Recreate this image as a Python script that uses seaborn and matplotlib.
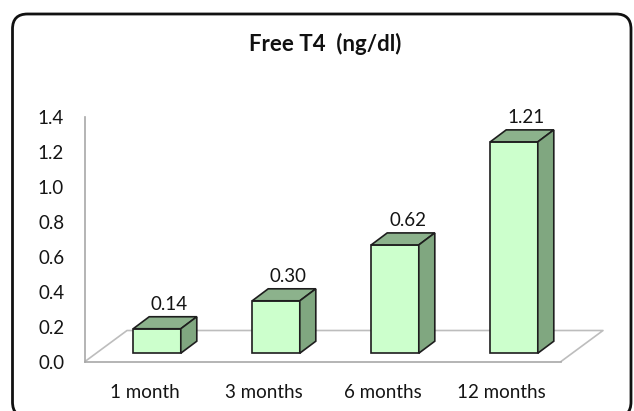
import matplotlib
matplotlib.use("Agg")
import matplotlib.pyplot as plt
import matplotlib.transforms as mtransforms
from matplotlib.patches import Polygon, FancyBboxPatch
import numpy as np
import pandas as pd
import seaborn as sns

# Data
periods = ["1 month", "3 months", "6 months", "12 months"]
free_t4 = [0.14, 0.30, 0.62, 1.21]
y_ticks = [0.0, 0.2, 0.4, 0.6, 0.8, 1.0, 1.2, 1.4]
title = "Free T4  (ng/dl)"

sns.set_style("white")
plt.rcParams["font.family"] = ["Lato", "DejaVu Sans"]

FRONT = "#ccffcc"
SIDE = "#80a780"
TOP = "#8cb28c"
EDGE = "#1e1e1e"
FLOOR = "#bdbdbd"
TEXT = "#141414"
LABEL_SIZE = 13.5

W, H = 634, 411
fig = plt.figure(figsize=(W / 100, H / 100), dpi=100)
ax = fig.add_axes([85 / W, (H - 361.5) / H, (561 - 85) / W, 244.5 / H])

df = pd.DataFrame({"period": periods, "value": free_t4})

# pseudo-3D geometry (pixels)
bar_shift = (12.5, 8.3)      # bars sit part-way into the floor depth
bar_depth = (16.0, 12.0)     # depth of each box
floor_depth = (42.0, 31.0)   # full floor depth

sns.barplot(data=df, x="period", y="value", order=periods, color=FRONT,
            saturation=1, width=0.4, edgecolor=EDGE, linewidth=1.2,
            errorbar=None, ax=ax, zorder=3)
ax.set_xlim(-0.5, len(periods) - 0.5)
ax.set_ylim(0, 1.4)

shift_tr = mtransforms.offset_copy(ax.transData, fig=fig,
                                   x=bar_shift[0], y=bar_shift[1], units="dots")
for p in ax.patches:
    p.set_transform(shift_tr)
    p.set_clip_on(False)

to_disp = ax.transData.transform
to_data = ax.transData.inverted().transform


def shifted(pts, dx, dy):
    d = to_disp(np.asarray(pts, dtype=float)) + np.array([dx, dy])
    return to_data(d)


# top and side faces of each box
for p in list(ax.patches):
    x0, x1 = p.get_x(), p.get_x() + p.get_width()
    h = p.get_height()
    bx, by = bar_shift
    dx, dy = bar_depth
    front = shifted([[x0, 0], [x1, 0], [x1, h], [x0, h]], bx, by)
    fx0, fy0 = front[0]
    fx1, fy1 = front[2]
    top = np.array([[fx0, fy1], [fx1, fy1]])
    top_back = shifted(top, dx, dy)
    ax.add_patch(Polygon([top[0], top[1], top_back[1], top_back[0]],
                         closed=True, facecolor=TOP, edgecolor=EDGE,
                         linewidth=1.2, zorder=3, clip_on=False))
    side = np.array([[fx1, fy0], [fx1, fy1]])
    side_back = shifted(side, dx, dy)
    ax.add_patch(Polygon([side[0], side[1], side_back[1], side_back[0]],
                         closed=True, facecolor=SIDE, edgecolor=EDGE,
                         linewidth=1.2, zorder=3, clip_on=False))

# floor outline
xl, xr = ax.get_xlim()
fl = [[xl, 0], [xr, 0]]
back = shifted(fl, *floor_depth)
ax.plot([xl, back[0][0], back[1][0], xr], [0, back[0][1], back[1][1], 0],
        color=FLOOR, linewidth=1.2, zorder=1, clip_on=False)

# value labels above the boxes
for i, v in enumerate(free_t4):
    ax.annotate(f"{v:.2f}", xy=(i, v), xytext=(25 * 0.72, 33 * 0.72),
                textcoords="offset points", ha="center", va="center",
                fontsize=LABEL_SIZE, color=TEXT, annotation_clip=False)

# axes styling
for s in ["top", "right"]:
    ax.spines[s].set_visible(False)
for s in ["left", "bottom"]:
    ax.spines[s].set_color("#a8a8a8")
    ax.spines[s].set_linewidth(1.2)
ax.set_xlabel("")
ax.set_ylabel("")
ax.set_yticks(y_ticks)
ax.set_yticklabels([f"{t:.1f}" for t in y_ticks])
ax.set_xticks(range(len(periods)))
ax.set_xticklabels(periods)
ax.set_xticks(np.arange(-0.5, len(periods)), minor=True)
ax.tick_params(axis="x", which="major", length=0, pad=16, labelsize=LABEL_SIZE,
               labelcolor=TEXT)
ax.tick_params(axis="x", which="minor", length=6, width=1.2, color="#a8a8a8",
               direction="out")
ax.tick_params(axis="y", which="major", length=6, width=1.2, color="#a8a8a8",
               direction="out", pad=9, labelsize=LABEL_SIZE, labelcolor=TEXT)
ax.set_facecolor("none")

fig.text(325 / W, (H - 44) / H, title, ha="center", va="center",
         fontsize=16, fontweight="bold", color="#111111")

# rounded chart frame
frame = FancyBboxPatch((12.5, -6), 631 - 12.5, 397 + 6,
                       boxstyle="round,pad=0,rounding_size=15",
                       transform=mtransforms.IdentityTransform(),
                       facecolor="none", edgecolor="#111111", linewidth=2.0)
fig.add_artist(frame)

fig.savefig("out.png", dpi=100)
